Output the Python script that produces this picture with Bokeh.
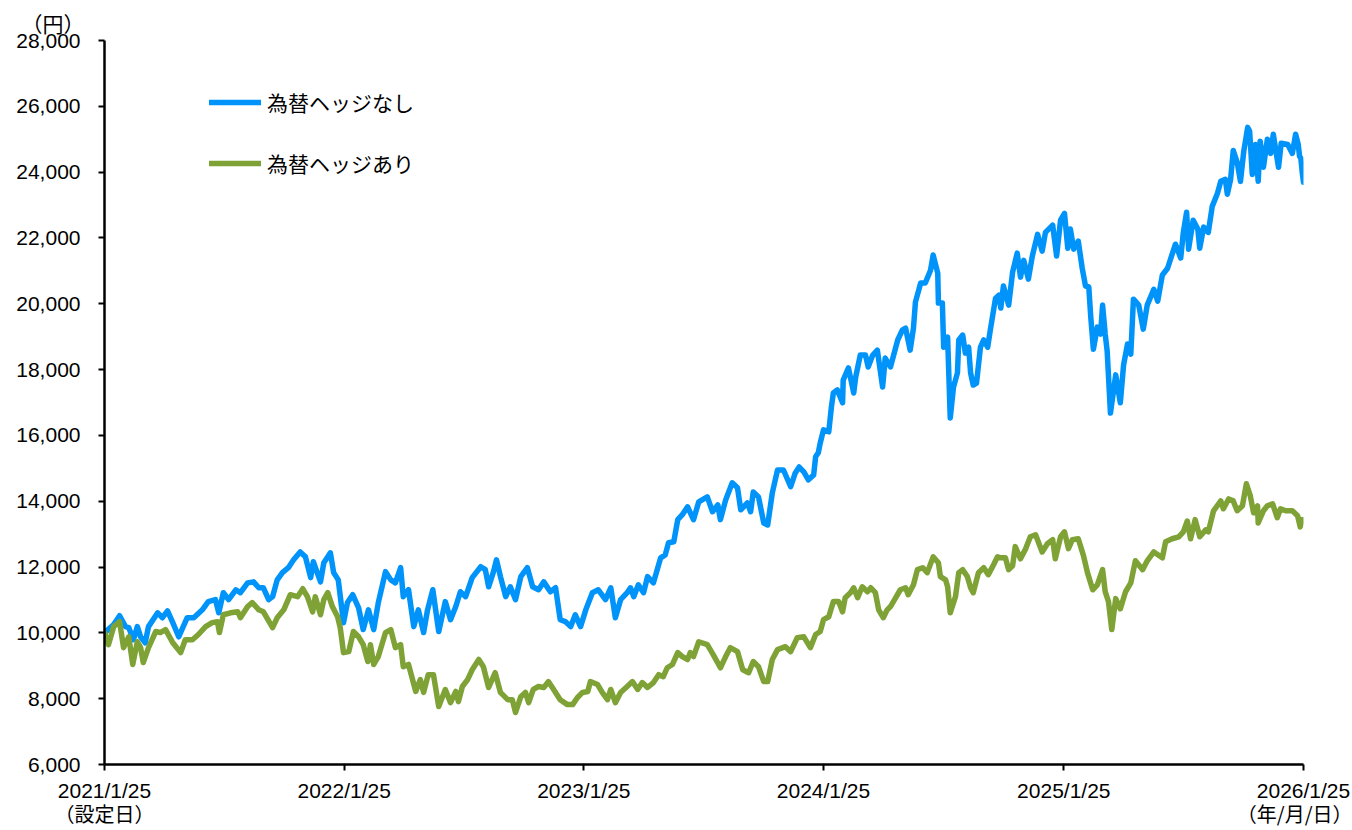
import pandas as pd
from bokeh.plotting import figure
from bokeh.models import (Range1d, FixedTicker, CustomJSTickFormatter, NumeralTickFormatter,
                          Legend, LegendItem, ColumnDataSource, DatetimeAxis, Title)
from bokeh.embed import file_html
from bokeh.resources import INLINE

# ---------------- data ----------------
SETUP_DATE = "2021-01-25"
END_DATE = "2026-01-25"
x_tick_dates = ["2021-01-25", "2022-01-25", "2023-01-25", "2024-01-25", "2025-01-25", "2026-01-25"]
x_sub_labels = ["（設定日）", "（年/月/日）"]
y_ticks = [6000, 8000, 10000, 12000, 14000, 16000, 18000, 20000, 22000, 24000, 26000, 28000]
y_unit = "（円）"
series_names = ["為替ヘッジなし", "為替ヘッジあり"]

# elapsed days since the setup date (2021/1/25) and base price (yen)
unhedged_days = [
    0, 14, 23, 32, 37, 44, 50, 55, 62, 67,
    81, 88, 96, 104, 113, 126, 136, 149, 158, 169,
    174, 181, 189, 200, 207, 218, 227, 235, 242, 250,
    256, 263, 271, 280, 288, 298, 306, 314, 318, 329,
    334, 344, 349, 356, 364, 370, 378, 387, 394, 402,
    410, 417, 428, 436, 443, 451, 455, 463, 471, 478,
    486, 492, 500, 509, 519, 527, 535, 542, 550, 560,
    573, 580, 585, 592, 597, 603, 611, 618, 626, 634,
    644, 652, 661, 669, 679, 687, 694, 702, 710, 717,
    725, 733, 743, 752, 763, 771, 778, 786, 796, 801,
    806, 813, 821, 827, 836, 847, 854, 859, 867, 873,
    880, 888, 897, 905, 918, 926, 934, 938, 946, 956,
    964, 969, 979, 984, 988, 996, 1004, 1010, 1017, 1025,
    1034, 1045, 1052, 1058, 1065, 1072, 1080, 1083, 1087, 1090,
    1095, 1103, 1107, 1110, 1116, 1124, 1125, 1133, 1141, 1144,
    1151, 1159, 1163, 1170, 1177, 1185, 1189, 1197, 1208, 1215,
    1220, 1227, 1232, 1235, 1243, 1250, 1258, 1262, 1269, 1270,
    1276, 1278, 1284, 1288, 1293, 1299, 1301, 1307, 1311, 1316,
    1319, 1323, 1328, 1334, 1339, 1345, 1349, 1357, 1362, 1365,
    1369, 1377, 1383, 1390, 1395, 1400, 1407, 1413, 1421, 1428,
    1433, 1444, 1450, 1456, 1462, 1467, 1471, 1476, 1483, 1489,
    1494, 1499, 1502, 1506, 1512, 1517, 1520, 1524, 1527, 1532,
    1540, 1547, 1552, 1558, 1563, 1567, 1575, 1582, 1588, 1598,
    1604, 1611, 1619, 1625, 1631, 1639, 1643, 1648, 1651, 1658,
    1665, 1668, 1674, 1681, 1687, 1695, 1700, 1707, 1710, 1715,
    1719, 1725, 1730, 1735, 1741, 1744, 1748, 1753, 1757, 1760,
    1765, 1771, 1776, 1780, 1785, 1788, 1792, 1802, 1809, 1814,
    1818, 1820, 1822, 1824, 1826,
]
unhedged_values = [
    10000, 10250, 10520, 10190, 10160, 9790, 10190, 9880, 9700, 10190,
    10610, 10460, 10670, 10310, 9880, 10460, 10460, 10700, 10950, 11010,
    10610, 11220, 11010, 11310, 11220, 11520, 11550, 11370, 11370, 11010,
    11100, 11610, 11830, 11980, 12220, 12460, 12310, 11680, 12160, 11550,
    12130, 12430, 11830, 11610, 10310, 10920, 11160, 10760, 10100, 10700,
    10100, 10920, 11860, 11610, 11520, 11980, 11100, 11310, 10190, 10700,
    10010, 10700, 11310, 10040, 10950, 10400, 10800, 11250, 11100, 11680,
    12010, 11920, 11400, 11830, 12220, 11710, 11100, 11400, 11010, 11710,
    11980, 11400, 11310, 11550, 11250, 11370, 10400, 10340, 10190, 10550,
    10190, 10700, 11220, 11310, 11010, 11370, 10460, 11010, 11220, 11370,
    11100, 11460, 11220, 11710, 11520, 12280, 12370, 12740, 12770, 13440,
    13590, 13830, 13440, 13980, 14130, 13680, 13890, 13440, 14040, 14560,
    14410, 13740, 13950, 13680, 14280, 14130, 13340, 13280, 14250, 14950,
    14950, 14440, 14860, 15040, 14890, 14650, 14800, 15350, 15470, 15770,
    16170, 16110, 16860, 17290, 17380, 16990, 17680, 18050, 17290, 17770,
    18440, 18440, 18080, 18440, 18590, 17470, 18350, 18080, 18900, 19200,
    19260, 18590, 19260, 20050, 20630, 20630, 21020, 21480, 20930, 20020,
    20020, 18680, 18990, 16530, 17470, 17900, 18900, 19050, 18500, 18680,
    17900, 17530, 17590, 18680, 18900, 18680, 19200, 20170, 20260, 19870,
    20540, 19960, 20960, 21540, 20810, 21320, 20750, 21450, 22110, 21600,
    22170, 22390, 21450, 22540, 22750, 21690, 22270, 21660, 21900, 21080,
    20540, 20510, 19600, 18620, 19290, 19080, 19960, 19080, 18560, 16680,
    17840, 16990, 18140, 18780, 18470, 20140, 19960, 19230, 19960, 20440,
    20080, 20870, 21080, 21450, 21810, 21390, 22170, 22780, 21660, 22540,
    22270, 21690, 22330, 22170, 22960, 23360, 23720, 23780, 23330, 23780,
    24660, 24300, 23720, 24630, 25360, 25240, 23930, 24840, 23720, 24940,
    24150, 25000, 24570, 25150, 24510, 24150, 24880, 24840, 24570, 25150,
    24840, 24480, 24420, 24000, 23690,
]

hedged_days = [
    0, 6, 14, 23, 29, 37, 43, 50, 55, 59,
    67, 78, 85, 93, 104, 116, 123, 134, 143, 154,
    164, 172, 175, 181, 192, 203, 207, 218, 225, 235,
    242, 256, 263, 273, 283, 294, 302, 309, 317, 321,
    329, 334, 340, 347, 355, 359, 364, 372, 379, 387,
    394, 401, 405, 410, 417, 428, 436, 443, 451, 455,
    463, 474, 481, 486, 493, 501, 509, 519, 527, 535,
    539, 545, 553, 560, 570, 577, 585, 595, 603, 614,
    621, 626, 634, 641, 646, 653, 661, 669, 676, 684,
    694, 705, 713, 720, 728, 736, 740, 751, 758, 766,
    771, 778, 786, 796, 804, 812, 819, 827, 836, 844,
    851, 857, 865, 873, 880, 888, 892, 897, 905, 918,
    927, 938, 946, 953, 964, 972, 981, 988, 996, 1004,
    1010, 1017, 1025, 1037, 1045, 1055, 1065, 1075, 1083, 1090,
    1095, 1103, 1110, 1118, 1124, 1128, 1136, 1141, 1147, 1154,
    1162, 1167, 1174, 1179, 1186, 1192, 1197, 1205, 1212, 1220,
    1224, 1232, 1238, 1246, 1253, 1262, 1270, 1273, 1281, 1284,
    1288, 1296, 1301, 1307, 1314, 1319, 1323, 1331, 1339, 1346,
    1354, 1360, 1365, 1372, 1377, 1383, 1387, 1395, 1403, 1410,
    1418, 1428, 1436, 1444, 1448, 1456, 1462, 1468, 1474, 1483,
    1491, 1497, 1505, 1512, 1520, 1524, 1529, 1534, 1540, 1547,
    1555, 1563, 1570, 1581, 1588, 1598, 1611, 1616, 1626, 1636,
    1643, 1649, 1654, 1661, 1668, 1677, 1681, 1689, 1700, 1704,
    1712, 1719, 1725, 1733, 1739, 1745, 1750, 1756, 1757, 1765,
    1771, 1779, 1786, 1791, 1799, 1809, 1817, 1821, 1824, 1826,
]
hedged_values = [
    10000, 9640, 10190, 10340, 9550, 9880, 9040, 9730, 9550, 9100,
    9550, 10040, 10010, 10100, 9700, 9400, 9790, 9790, 9950, 10190,
    10310, 10340, 10010, 10550, 10610, 10640, 10460, 10800, 10920, 10700,
    10640, 10160, 10460, 10700, 11160, 11100, 11340, 11100, 10640, 11100,
    10550, 11010, 11220, 10800, 10490, 10160, 9400, 9430, 10040, 9880,
    9640, 9130, 9640, 9040, 9280, 10010, 10100, 9550, 9640, 8970,
    9040, 8220, 8580, 8190, 8730, 8730, 7760, 8280, 7880, 8220,
    7910, 8370, 8580, 8880, 9190, 8970, 8340, 8790, 8190, 7970,
    7970, 7580, 8060, 8190, 7880, 8280, 8370, 8340, 8520, 8280,
    7970, 7820, 7820, 8030, 8190, 8220, 8520, 8430, 8190, 7970,
    8280, 7880, 8190, 8370, 8520, 8280, 8490, 8340, 8490, 8730,
    8670, 8940, 9040, 9400, 9280, 9190, 9400, 9280, 9730, 9640,
    9340, 8940, 9280, 9550, 9430, 8880, 8790, 9130, 8970, 8520,
    8520, 9190, 9490, 9580, 9430, 9850, 9880, 9550, 9950, 10040,
    10400, 10490, 10950, 10950, 10640, 11070, 11220, 11370, 11070, 11400,
    11250, 11370, 11220, 10700, 10460, 10700, 10800, 11070, 11310, 11370,
    11160, 11460, 11920, 11980, 11830, 12310, 12130, 11710, 11610, 11400,
    10610, 11100, 11830, 11920, 11710, 11370, 11220, 11830, 11980, 11770,
    12070, 12310, 12280, 12280, 11920, 12040, 12620, 12250, 12560, 12920,
    12980, 12460, 12710, 12830, 12250, 12920, 13070, 12560, 12830, 12860,
    12340, 11830, 11310, 11460, 11920, 11250, 10950, 10100, 11040, 10730,
    11250, 11520, 12190, 11920, 12190, 12460, 12280, 12770, 12860, 12920,
    13070, 13400, 12860, 13440, 12920, 13130, 13070, 13710, 14010, 13770,
    14070, 14010, 13710, 13860, 14530, 14160, 13650, 13860, 13340, 13710,
    13860, 13920, 13500, 13770, 13710, 13710, 13560, 13220, 13440, 13400,
]

# ---------------- styling ----------------
BLUE = "#0094FA"
GREEN = "#7EA235"
NUM_FONT = "Liberation Sans"
JP_FONT = "Noto Sans CJK JP"

setup = pd.Timestamp(SETUP_DATE)
end = pd.Timestamp(END_DATE)


def to_dates(days):
    return setup + pd.to_timedelta(days, unit="D")


def to_ms(d):
    return int(pd.Timestamp(d).timestamp() * 1000)


src_unhedged = ColumnDataSource(dict(date=to_dates(unhedged_days), value=unhedged_values))
src_hedged = ColumnDataSource(dict(date=to_dates(hedged_days), value=hedged_values))

p = figure(width=1352, height=830, x_axis_type="datetime",
           output_backend="svg", toolbar_location=None,
           x_range=Range1d(setup, end), y_range=Range1d(y_ticks[0], y_ticks[-1]),
           min_border_left=104, min_border_right=49, min_border_top=40, min_border_bottom=65)
p.outline_line_color = None
p.grid.visible = False
p.background_fill_color = "white"
p.border_fill_color = "white"

# unit label at the top-left (as a left-aligned title)
p.title = Title(text=y_unit, align="left", offset=-83, standoff=6,
                text_font=JP_FONT, text_font_size="21px", text_font_style="normal",
                text_color="black")

r_unhedged = p.line("date", "value", source=src_unhedged, line_color=BLUE, line_width=5.5,
                    line_join="round", line_cap="round")
r_hedged = p.line("date", "value", source=src_hedged, line_color=GREEN, line_width=5.5,
                  line_join="round", line_cap="round")

# x axis
xa = p.xaxis[0]
xa.ticker = FixedTicker(ticks=[to_ms(d) for d in x_tick_dates])
xa.formatter = CustomJSTickFormatter(code="""
const d = new Date(tick);
return d.getUTCFullYear() + '/' + (d.getUTCMonth() + 1) + '/' + d.getUTCDate();
""")
# y axis
ya = p.yaxis[0]
ya.ticker = FixedTicker(ticks=y_ticks)
ya.formatter = NumeralTickFormatter(format="0,0")

for ax in (xa, ya):
    ax.axis_line_color = "black"
    ax.axis_line_width = 2.5
    ax.major_tick_line_color = "black"
    ax.major_tick_line_width = 2
    ax.major_tick_out = 6
    ax.major_tick_in = 0
    ax.minor_tick_line_color = None
    ax.major_label_text_font = NUM_FONT
    ax.major_label_text_font_size = "21px"
    ax.major_label_text_color = "black"
xa.major_label_standoff = 8
ya.major_label_standoff = 18

# second row of x labels: （設定日） under the first date, （年/月/日） under the last
xa2 = DatetimeAxis(ticker=FixedTicker(ticks=[to_ms(x_tick_dates[0]), to_ms(x_tick_dates[-1])]),
                   formatter=CustomJSTickFormatter(
                       args=dict(labels=x_sub_labels, mid=to_ms("2023-07-25")),
                       code="return tick < mid ? labels[0] : labels[1];"))
xa2.axis_line_color = None
xa2.major_tick_line_color = None
xa2.minor_tick_line_color = None
xa2.major_tick_out = 0
xa2.major_tick_in = 0
xa2.major_label_standoff = -6
xa2.major_label_text_font = JP_FONT
xa2.major_label_text_font_size = "20px"
xa2.major_label_text_color = "black"
p.add_layout(xa2, "below")

legend = Legend(items=[LegendItem(label=series_names[0], renderers=[r_unhedged]),
                       LegendItem(label=series_names[1], renderers=[r_hedged])],
                location=(105, 586), orientation="vertical",
                label_text_font=JP_FONT, label_text_font_size="21px", label_text_color="black",
                glyph_width=52, glyph_height=20, label_height=20, spacing=31,
                label_standoff=6, padding=0, margin=0,
                border_line_color=None, background_fill_alpha=0)
p.add_layout(legend)

open("out.html", "w").write(file_html(p, INLINE))
